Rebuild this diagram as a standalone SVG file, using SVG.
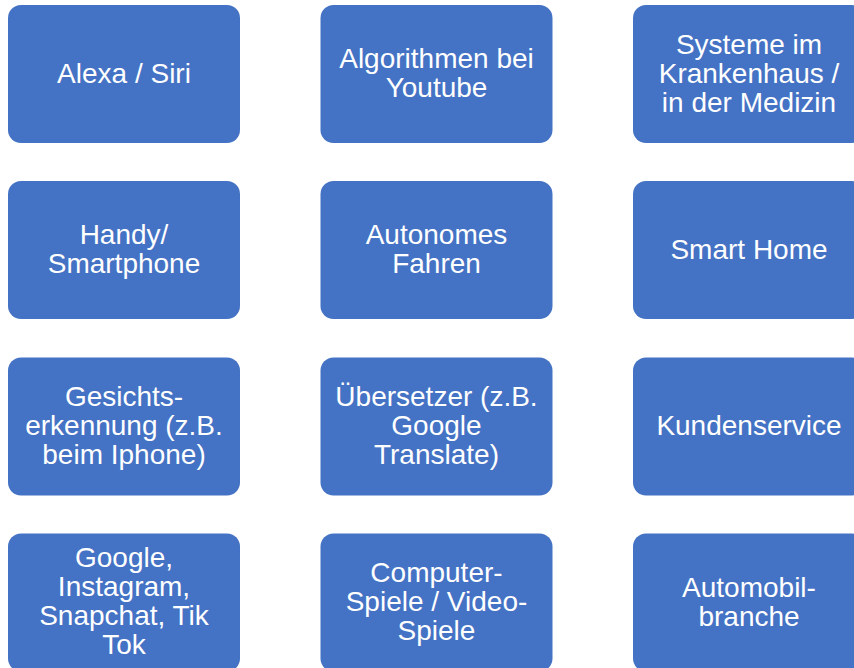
<svg xmlns="http://www.w3.org/2000/svg" width="854" height="668" viewBox="0 0 854 668">
  <style>
    .box { fill: #4472C4; }
    .lbl { font-family: "Liberation Sans", Arial, sans-serif; font-size: 28px; fill: #FFFFFF; text-anchor: middle; }
  </style>
  <rect width="854" height="668" fill="#FFFFFF"/>
  <g id="connectors"></g>

  <!-- row 1 -->
  <g id="n-alexa">
    <rect class="box" x="8" y="5" width="232" height="138" rx="13"/>
    <text class="lbl" x="124" y="83">Alexa / Siri</text>
  </g>
  <g id="n-youtube">
    <rect class="box" x="320.5" y="5" width="232" height="138" rx="13"/>
    <text class="lbl" x="436.5" y="67.5">Algorithmen bei</text>
    <text class="lbl" x="436.5" y="96.5">Youtube</text>
  </g>
  <g id="n-medizin">
    <rect class="box" x="633" y="5" width="232" height="138" rx="13"/>
    <text class="lbl" x="749" y="53.5">Systeme im</text>
    <text class="lbl" x="749" y="82.5">Krankenhaus /</text>
    <text class="lbl" x="749" y="111.5">in der Medizin</text>
  </g>

  <!-- row 2 -->
  <g id="n-handy">
    <rect class="box" x="8" y="181" width="232" height="138" rx="13"/>
    <text class="lbl" x="124" y="243.5">Handy/</text>
    <text class="lbl" x="124" y="272.5">Smartphone</text>
  </g>
  <g id="n-fahren">
    <rect class="box" x="320.5" y="181" width="232" height="138" rx="13"/>
    <text class="lbl" x="436.5" y="243.5">Autonomes</text>
    <text class="lbl" x="436.5" y="272.5">Fahren</text>
  </g>
  <g id="n-smarthome">
    <rect class="box" x="633" y="181" width="232" height="138" rx="13"/>
    <text class="lbl" x="749" y="259">Smart Home</text>
  </g>

  <!-- row 3 -->
  <g id="n-gesicht">
    <rect class="box" x="8" y="357.5" width="232" height="138" rx="13"/>
    <text class="lbl" x="124" y="406">Gesichts-</text>
    <text class="lbl" x="124" y="435">erkennung (z.B.</text>
    <text class="lbl" x="124" y="464">beim Iphone)</text>
  </g>
  <g id="n-uebersetzer">
    <rect class="box" x="320.5" y="357.5" width="232" height="138" rx="13"/>
    <text class="lbl" x="436.5" y="406">Übersetzer (z.B.</text>
    <text class="lbl" x="436.5" y="435">Google</text>
    <text class="lbl" x="436.5" y="464">Translate)</text>
  </g>
  <g id="n-kunden">
    <rect class="box" x="633" y="357.5" width="232" height="138" rx="13"/>
    <text class="lbl" x="749" y="435">Kundenservice</text>
  </g>

  <!-- row 4 -->
  <g id="n-social">
    <rect class="box" x="8" y="533.5" width="232" height="138" rx="13"/>
    <text class="lbl" x="124" y="567">Google,</text>
    <text class="lbl" x="124" y="596">Instagram,</text>
    <text class="lbl" x="124" y="625">Snapchat, Tik</text>
    <text class="lbl" x="124" y="654">Tok</text>
  </g>
  <g id="n-spiele">
    <rect class="box" x="320.5" y="533.5" width="232" height="138" rx="13"/>
    <text class="lbl" x="436.5" y="582">Computer-</text>
    <text class="lbl" x="436.5" y="611">Spiele / Video-</text>
    <text class="lbl" x="436.5" y="640">Spiele</text>
  </g>
  <g id="n-auto">
    <rect class="box" x="633" y="533.5" width="232" height="138" rx="13"/>
    <text class="lbl" x="749" y="596.5">Automobil-</text>
    <text class="lbl" x="749" y="625.5">branche</text>
  </g>
</svg>
